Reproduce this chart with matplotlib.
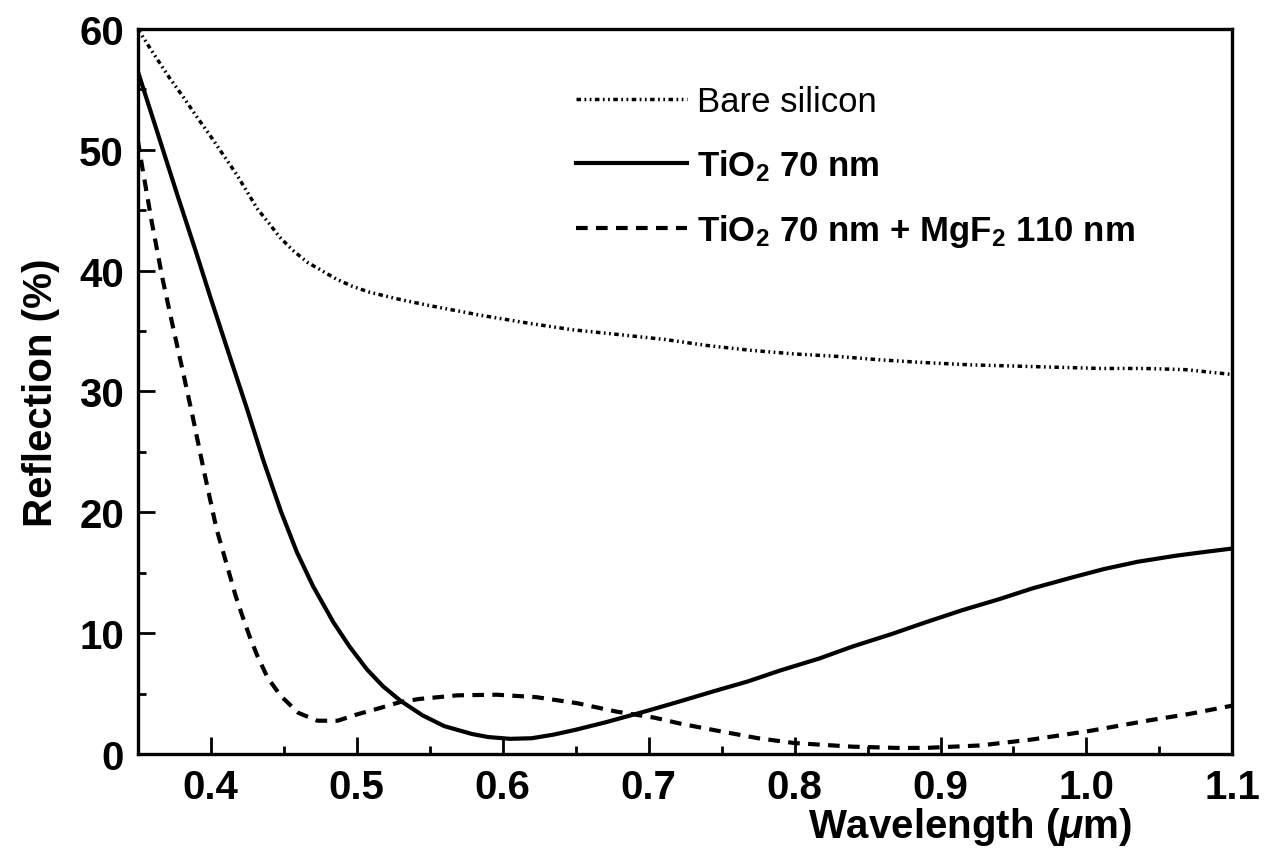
import matplotlib
matplotlib.use("Agg")
import matplotlib.pyplot as plt
from matplotlib.ticker import MultipleLocator

plt.rcParams['font.family'] = ['Liberation Sans', 'DejaVu Sans']
plt.rcParams['mathtext.fontset'] = 'custom'
plt.rcParams['mathtext.rm'] = 'Liberation Sans'
plt.rcParams['mathtext.bf'] = 'Liberation Sans:bold'
plt.rcParams['mathtext.it'] = 'Liberation Sans:italic:bold'

# Bare silicon
wl_bare = [0.35, 0.36, 0.372, 0.381, 0.39, 0.40, 0.409, 0.418, 0.425, 0.432, 0.44, 0.447,
           0.456, 0.466, 0.476, 0.486, 0.497, 0.509, 0.53,
           0.55, 0.585, 0.62, 0.648, 0.68, 0.711, 0.74, 0.77, 0.80, 0.829, 0.86, 0.887,
           0.92, 0.95, 0.98, 1.01, 1.04, 1.068, 1.10]
r_bare = [60.0, 58.1, 55.9, 54.4, 52.8, 51.1, 49.5, 47.9, 46.5, 45.1, 43.9, 42.8,
          41.7, 40.7, 40.0, 39.3, 38.7, 38.2, 37.6,
          37.1, 36.3, 35.6, 35.1, 34.7, 34.3, 33.8, 33.4, 33.1, 32.9, 32.6, 32.4,
          32.2, 32.1, 32.0, 31.9, 31.9, 31.8, 31.4]

# TiO2 70 nm
wl_tio2 = [0.35, 0.363, 0.377, 0.39, 0.40, 0.413, 0.425, 0.436, 0.448, 0.459, 0.47, 0.484,
           0.495, 0.507, 0.518, 0.53, 0.545, 0.56, 0.579, 0.59, 0.605, 0.62, 0.635, 0.65,
           0.67, 0.685, 0.70, 0.72, 0.745, 0.768, 0.79, 0.817, 0.84, 0.866, 0.89, 0.915,
           0.94, 0.963, 0.99, 1.012, 1.035, 1.061, 1.08, 1.10]
r_tio2 = [56.5, 51.6, 46.3, 41.5, 37.7, 32.9, 28.5, 24.3, 20.1, 16.7, 13.9, 10.9,
          8.9, 7.0, 5.6, 4.4, 3.2, 2.3, 1.65, 1.4, 1.25, 1.3, 1.6, 2.0,
          2.6, 3.1, 3.6, 4.3, 5.2, 6.0, 6.9, 7.9, 8.9, 9.9, 10.9, 11.9,
          12.8, 13.7, 14.6, 15.3, 15.9, 16.4, 16.7, 17.0]

# TiO2 70 nm + MgF2 110 nm
wl_dbl = [0.35, 0.353, 0.3596, 0.367, 0.374, 0.381, 0.388, 0.395, 0.404, 0.409, 0.417, 0.422,
          0.427, 0.432, 0.439, 0.448, 0.46, 0.473, 0.487, 0.501, 0.516, 0.53, 0.543, 0.569,
          0.596, 0.623, 0.651, 0.678, 0.704, 0.722, 0.748, 0.775, 0.80, 0.84, 0.87, 0.89,
          0.927, 0.963, 1.002, 1.044, 1.07, 1.10]
r_dbl = [50.8, 48.6, 44.0, 39.3, 35.4, 31.6, 27.7, 23.6, 18.6, 16.5, 13.1, 11.3,
         9.6, 8.1, 6.3, 4.8, 3.4, 2.75, 2.75, 3.3, 3.8, 4.3, 4.55, 4.85,
         4.9, 4.7, 4.2, 3.5, 3.0, 2.5, 1.9, 1.3, 0.9, 0.6, 0.5, 0.5,
         0.7, 1.2, 1.9, 2.8, 3.3, 4.0]

labels = ['Bare silicon', r'TiO$_{\mathbf{2}}$ 70 nm',
          r'TiO$_{\mathbf{2}}$ 70 nm + MgF$_{\mathbf{2}}$ 110 nm']

fig = plt.figure(figsize=(12.64, 8.54), dpi=100)
ax = fig.add_axes([0.109, 0.116, 0.866, 0.849])

ax.plot(wl_bare, r_bare, color='black', lw=2.5,
        linestyle=(0, (1.3, 1.0, 0.5, 1.0, 0.5, 1.0)), label=labels[0])
ax.plot(wl_tio2, r_tio2, color='black', lw=3.0, linestyle='-', label=labels[1])
ax.plot(wl_dbl, r_dbl, color='black', lw=3.0, linestyle=(0, (2.8, 2.0)), label=labels[2])

ax.set_xlim(0.35, 1.1)
ax.set_ylim(0, 60)
ax.xaxis.set_minor_locator(MultipleLocator(0.05))
ax.yaxis.set_major_locator(MultipleLocator(10))
ax.yaxis.set_minor_locator(MultipleLocator(5))
ax.set_xticks([0.4, 0.5, 0.6, 0.7, 0.8, 0.9, 1.0, 1.1])
ax.set_xticklabels(['0.4', '0.5', '0.6', '0.7', '0.8', '0.9', '1.0', '1.1'])

ax.tick_params(which='both', direction='in', top=False, right=False, width=2)
ax.tick_params(which='major', length=12, labelsize=29, pad=10)
ax.tick_params(which='minor', length=6)
for lab in ax.get_xticklabels() + ax.get_yticklabels():
    lab.set_fontweight('bold')
for sp in ax.spines.values():
    sp.set_linewidth(2.4)

ax.set_xlabel(r'Wavelength ($\mu$m)', fontsize=29, fontweight='bold')
ax.xaxis.set_label_coords(0.76, -0.07)
ax.set_ylabel('Reflection (%)', fontsize=29, fontweight='bold', labelpad=14)

leg = ax.legend(loc='upper left', bbox_to_anchor=(0.40, 0.923), frameon=False,
                fontsize=25, handlelength=3.2, handletextpad=0.3, labelspacing=0.85,
                borderpad=0, borderaxespad=0)
for i, t in enumerate(leg.get_texts()):
    if i > 0:
        t.set_fontweight('bold')

fig.savefig('out.png', dpi=100)
